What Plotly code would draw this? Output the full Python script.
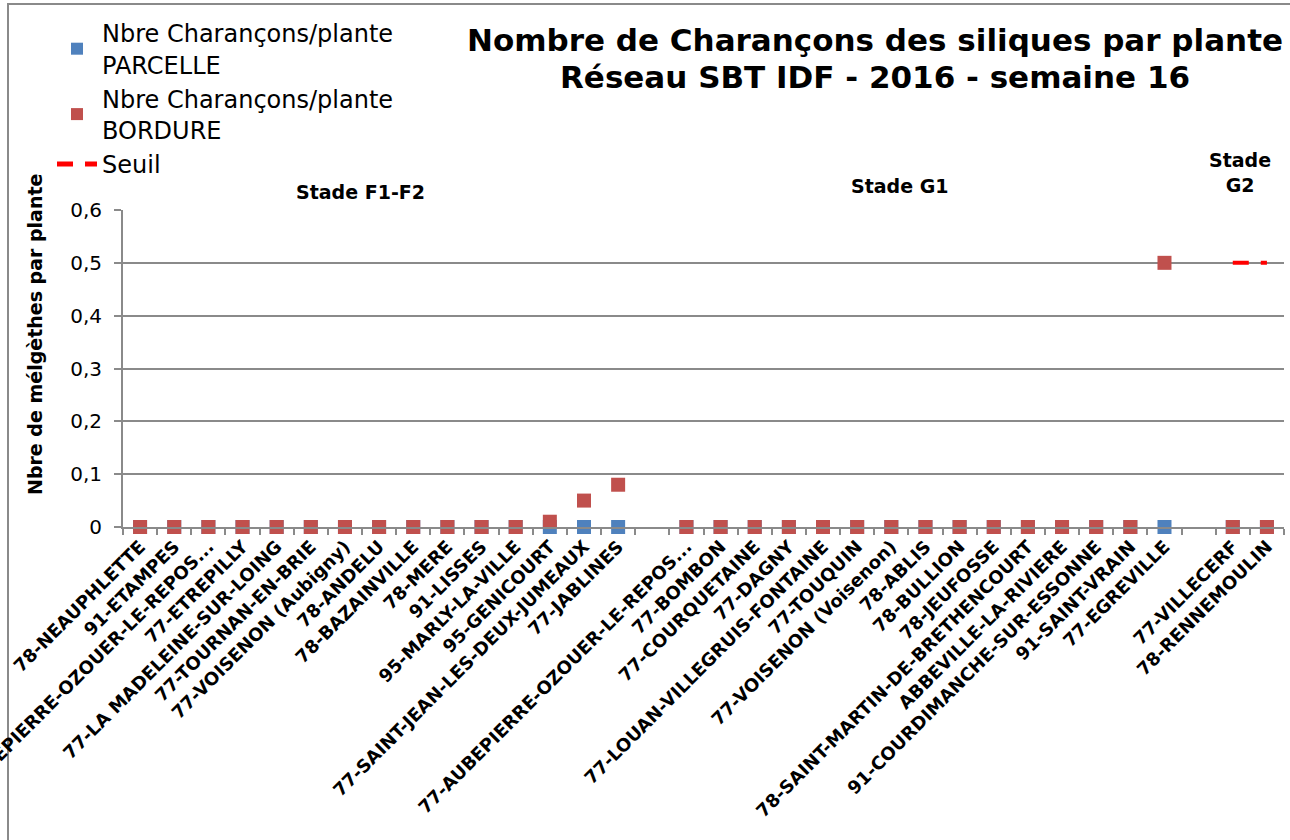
import plotly.graph_objects as go

# ---- data ----
sites = [
    "78-NEAUPHLETTE", "91-ETAMPES", "77-AUBEPIERRE-OZOUER-LE-REPOS...", "77-ETREPILLY",
    "77-LA MADELEINE-SUR-LOING", "77-TOURNAN-EN-BRIE", "77-VOISENON (Aubigny)", "78-ANDELU",
    "78-BAZAINVILLE", "78-MERE", "91-LISSES", "95-MARLY-LA-VILLE", "95-GENICOURT",
    "77-SAINT-JEAN-LES-DEUX-JUMEAUX", "77-JABLINES",
    "",
    "77-AUBEPIERRE-OZOUER-LE-REPOS...", "77-BOMBON", "77-COURQUETAINE", "77-DAGNY",
    "77-LOUAN-VILLEGRUIS-FONTAINE", "77-TOUQUIN", "77-VOISENON (Voisenon)", "78-ABLIS",
    "78-BULLION", "78-JEUFOSSE", "78-SAINT-MARTIN-DE-BRETHENCOURT", "ABBEVILLE-LA-RIVIERE",
    "91-COURDIMANCHE-SUR-ESSONNE", "91-SAINT-VRAIN", "77-EGREVILLE",
    "",
    "77-VILLECERF", "78-RENNEMOULIN",
]
parcelle = [0, 0, 0, 0, 0, 0, 0, 0, 0, 0, 0, 0, 0, 0, 0,
            None,
            0, 0, 0, 0, 0, 0, 0, 0, 0, 0, 0, 0, 0, 0, 0,
            None,
            0, 0]
bordure = [0, 0, 0, 0, 0, 0, 0, 0, 0, 0, 0, 0, 0.01, 0.05, 0.08,
           None,
           0, 0, 0, 0, 0, 0, 0, 0, 0, 0, 0, 0, 0, 0, 0.5,
           None,
           0, 0]
seuil = [None, None, None, None, None, None, None, None, None, None, None, None, None, None, None,
         None,
         None, None, None, None, None, None, None, None, None, None, None, None, None, None, None,
         None,
         0.5, 0.5]
stage_labels = ["Stade F1-F2", "Stade G1", "Stade<br>G2"]
stage_pos = [6.45, 22.25, 32.2]
title_lines = ["Nombre de Charançons des siliques par plante", "Réseau SBT IDF - 2016 - semaine 16"]
y_ticks = [0, 0.1, 0.2, 0.3, 0.4, 0.5, 0.6]
y_ticktext = ["0", "0,1", "0,2", "0,3", "0,4", "0,5", "0,6"]

pos = list(range(len(sites)))
boundaries = [p - 0.5 for p in pos] + [pos[-1] + 0.5]

FONT = "DejaVu Sans"
GRID = "#8a8a8a"

fig = go.Figure()
fig.add_trace(go.Scatter(
    x=pos, y=parcelle, mode="markers", name="Nbre Charançons/plante<br>PARCELLE",
    marker=dict(symbol="square", size=14, color="#4F81BD"), cliponaxis=False))
fig.add_trace(go.Scatter(
    x=pos, y=bordure, mode="markers", name="Nbre Charançons/plante<br>BORDURE",
    marker=dict(symbol="square", size=14, color="#C0504D"), cliponaxis=False))
fig.add_trace(go.Scatter(
    x=pos, y=seuil, mode="lines", name="Seuil",
    line=dict(color="#FF0000", width=4, dash="16px,12px"), cliponaxis=False))

L, R, T, B = 123, 1284, 210, 527
W, H = 1290, 840

def px_x(p):
    return (p - L) / (R - L)

def px_y(p):
    return (B - p) / (B - T)

annotations = []
stage_bottom_px = [205, 199, 198]
for lab, xp, yb in zip(stage_labels, stage_pos, stage_bottom_px):
    annotations.append(dict(
        x=xp, y=px_y(yb), xref="x", yref="paper", text=lab, showarrow=False,
        xanchor="center", yanchor="bottom",
        font=dict(family=FONT, size=19, color="black", weight="bold")))
for line, yc in zip(title_lines, [40, 77]):
    annotations.append(dict(
        x=px_x(875), y=px_y(yc), xref="paper", yref="paper", text=line, showarrow=False,
        xanchor="center", yanchor="middle",
        font=dict(family=FONT, size=31, color="black", weight="bold")))
annotations.append(dict(
    x=px_x(35), y=px_y(335), xref="paper", yref="paper",
    text="Nbre de mélgèthes par plante", textangle=-90, showarrow=False,
    xanchor="center", yanchor="middle",
    font=dict(family=FONT, size=19, color="black", weight="bold")))

fig.update_layout(
    width=W, height=H,
    margin=dict(l=L, r=W - R, t=T, b=H - B, autoexpand=False),
    paper_bgcolor="white", plot_bgcolor="white",
    font=dict(family=FONT, color="black"),
    showlegend=True,
    legend=dict(
        x=px_x(52), y=px_y(11), xref="paper", yref="paper", xanchor="left", yanchor="top",
        font=dict(family=FONT, size=24, color="black"), bgcolor="rgba(0,0,0,0)",
        tracegroupgap=0, itemsizing="constant", itemwidth=40),
    xaxis=dict(
        range=[-0.5, len(sites) - 0.5], tickmode="array", tickvals=pos, ticktext=sites,
        tickangle=-45, ticks="", showgrid=False, zeroline=False,
        showline=True, linecolor=GRID, linewidth=2, ticklabeloverflow="allow",
        tickfont=dict(family=FONT, size=18, color="black", weight="bold"),
        automargin=False,
        minor=dict(tickmode="array", tickvals=boundaries, ticks="outside", ticklen=6,
                   tickwidth=2, tickcolor=GRID, showgrid=False)),
    yaxis=dict(
        range=[0, 0.6], tickmode="array", tickvals=y_ticks, ticktext=y_ticktext,
        ticks="outside", ticklen=7, tickwidth=2, tickcolor=GRID,
        showgrid=True, gridcolor=GRID, gridwidth=2, zeroline=False,
        showline=True, linecolor=GRID, linewidth=2, ticklabelstandoff=8,
        tickfont=dict(family=FONT, size=20, color="black"), automargin=False),
    annotations=annotations,
    shapes=[dict(type="rect", xref="paper", yref="paper",
                 x0=px_x(8), x1=px_x(1300), y0=px_y(860), y1=px_y(4),
                 line=dict(color="#8a8a8a", width=2), fillcolor="rgba(0,0,0,0)", layer="below")],
)

fig.write_html("out.html", config={"displayModeBar": False},
               post_script="document.body.style.margin='0';document.body.style.padding='0';")
